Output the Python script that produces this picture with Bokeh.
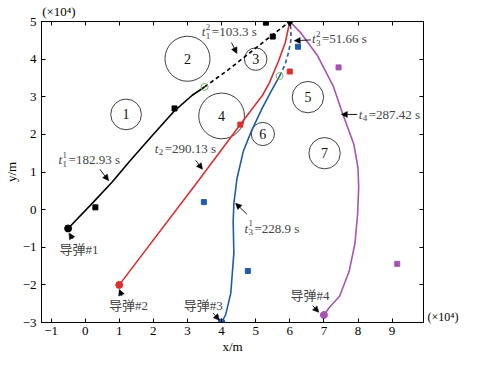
from bokeh.plotting import figure
from bokeh.models import (Range1d, FixedTicker, LinearAxis, CustomJSTickFormatter,
                          Label, Arrow, NormalHead)
from bokeh.embed import file_html
from bokeh.resources import INLINE

# ---------------- data (units of 10^4 m) ----------------
X_RANGE = (-1.28, 9.92)
Y_RANGE = (-3.0, 5.0)
x_ticks = [-1, 0, 1, 2, 3, 4, 5, 6, 7, 8, 9]
y_ticks = [-3, -2, -1, 0, 1, 2, 3, 4, 5]
scale_text = "(×10⁴)"
scale_top_x = [-0.77]
scale_right_y = [-2.86]
x_title = "x/m"
y_title = "y/m"

# obstacles
obs_x = [1.20, 3.00, 5.00, 4.00, 6.53, 5.21, 7.02]
obs_y = [2.53, 4.01, 4.00, 2.49, 2.99, 2.01, 1.50]
obs_r = [0.45, 0.66, 0.33, 0.67, 0.46, 0.34, 0.46]
obs_labels = ["1", "2", "3", "4", "5", "6", "7"]

# missile 1 (black)
m1_x = [-0.50, 0.24, 0.80, 1.31, 1.95, 2.58, 3.14, 3.50]
m1_y = [-0.50, 0.20, 0.74, 1.29, 1.95, 2.59, 3.04, 3.26]
m1d_x = [3.50, 4.20, 4.90, 5.50, 6.00]
m1d_y = [3.26, 3.72, 4.22, 4.65, 5.00]
# missile 2 (red)
m2_x = [1.00, 3.33, 4.55, 5.20, 5.40, 5.67, 5.87, 6.00]
m2_y = [-2.00, 0.78, 2.26, 3.04, 3.37, 3.95, 4.45, 5.00]
# missile 3 (blue)
m3_x = [4.00, 4.12, 4.27, 4.36, 4.34, 4.36, 4.45, 4.64, 4.88, 5.20, 5.44, 5.70]
m3_y = [-3.00, -2.79, -2.22, -1.15, -0.33, 0.16, 0.82, 1.56, 2.10, 2.71, 3.12, 3.55]
m3d_x = [5.70, 5.86, 5.97, 6.04, 6.03, 6.00]
m3d_y = [3.55, 3.85, 4.20, 4.55, 4.80, 5.00]
# missile 4 (purple)
m4_x = [7.00, 7.17, 7.46, 7.74, 7.91, 7.99, 8.02, 8.00, 7.88, 7.55, 7.27, 6.80, 6.33, 6.00]
m4_y = [-2.80, -2.59, -2.30, -1.64, -0.90, -0.10, 0.60, 1.10, 1.73, 2.55, 3.29, 4.11, 4.69, 5.00]

start_x = [-0.50, 1.00, 4.00, 7.00]
start_y = [-0.50, -2.00, -3.00, -2.80]
target_x = [6.00]
target_y = [5.00]
switch_x = [3.50, 5.70]
switch_y = [3.26, 3.55]

sq_black_x = [0.30, 2.62, 5.30, 5.50]
sq_black_y = [0.06, 2.69, 4.97, 4.60]
sq_red_x = [4.55, 6.00]
sq_red_y = [2.26, 3.67]
sq_blue_x = [3.48, 4.77, 6.24]
sq_blue_y = [0.20, -1.63, 4.33]
sq_purple_x = [7.43, 9.15]
sq_purple_y = [3.78, -1.44]

# time annotations
ann_x = [-0.78, 2.04, 3.42, 6.65, 8.02, 4.67]
ann_y = [1.33, 1.63, 4.73, 4.54, 2.53, -0.49]
ann_sub = ["1", "2", "1", "3", "4", "3"]
ann_sup = ["1", "", "2", "2", "", "1"]
ann_rest = ["=182.93 s", "=290.13 s", "=103.3 s", "=51.66 s", "=287.42 s", "=228.9 s"]

# missile name labels
ml_x = [-0.18, 1.27, 3.46, 6.59]
ml_y = [-1.07, -2.56, -2.55, -2.28]
ml_text = ["导弹#1", "导弹#2", "导弹#3", "导弹#4"]

# arrows
arr_x0 = [0.43, 3.24, 4.29, 6.62, 7.98, 4.74, -0.37, 1.08, 3.75, 6.67]
arr_y0 = [1.07, 1.31, 4.44, 4.51, 2.53, -0.12, -0.78, -2.30, -2.75, -2.55]
arr_x1 = [0.69, 3.44, 4.45, 6.13, 7.51, 4.41, -0.47, 1.00, 3.94, 6.85]
arr_y1 = [0.77, 1.07, 4.15, 4.49, 2.53, 0.17, -0.62, -2.12, -2.94, -2.73]

# ---------------- styles ----------------
SERIF = "Liberation Serif"
CJK = "'Liberation Serif', 'Noto Sans CJK SC'"
BLACK = "#000000"
RED = "#dc2f2f"
BLUE = "#1f5ba8"
PURPLE = "#a852b4"
GREEN = "#7ab55c"

p = figure(width=461, height=356,
           x_range=Range1d(*X_RANGE), y_range=Range1d(*Y_RANGE),
           output_backend="svg", toolbar_location=None,
           min_border_left=34, min_border_right=30,
           min_border_top=17, min_border_bottom=30)
p.grid.visible = False
p.outline_line_color = "black"
p.outline_line_width = 1
p.background_fill_color = "white"
p.border_fill_color = "white"

fmt = CustomJSTickFormatter(code="return tick < 0 ? '\\u2212' + Math.abs(tick) : String(tick);")


def style_axis(ax, ticks, show):
    ax.ticker = FixedTicker(ticks=ticks)
    ax.formatter = fmt if show else CustomJSTickFormatter(code="return '';")
    ax.major_tick_in = 4
    ax.major_tick_out = 0
    ax.minor_tick_in = 0
    ax.minor_tick_out = 0
    ax.axis_line_color = "black"
    ax.major_tick_line_color = "black"
    ax.major_label_text_font = SERIF
    ax.major_label_text_font_size = "13px" if show else "0px"
    ax.major_label_text_color = "black"
    ax.major_label_standoff = 4 if show else 0


def text_axis(ax, ticks, standoff):
    ax.ticker = FixedTicker(ticks=ticks)
    ax.formatter = CustomJSTickFormatter(code="return %r;" % scale_text)
    ax.major_tick_in = 0
    ax.major_tick_out = 0
    ax.minor_tick_in = 0
    ax.minor_tick_out = 0
    ax.axis_line_color = None
    ax.major_tick_line_color = None
    ax.major_label_text_font = SERIF
    ax.major_label_text_font_size = "13px"
    ax.major_label_text_color = "black"
    ax.major_label_standoff = standoff


xa = p.xaxis[0]
ya = p.yaxis[0]
style_axis(xa, x_ticks, True)
style_axis(ya, y_ticks, True)
ya.major_label_standoff = 5
xa.axis_label = x_title
ya.axis_label = y_title
for ax in (xa, ya):
    ax.axis_label_text_font = SERIF
    ax.axis_label_text_font_size = "13px"
    ax.axis_label_text_font_style = "normal"
    ax.axis_label_text_color = "black"
    ax.axis_label_standoff = 1

top = LinearAxis()
style_axis(top, x_ticks, False)
p.add_layout(top, "above")
top_txt = LinearAxis()
text_axis(top_txt, scale_top_x, 3)
p.add_layout(top_txt, "above")

right = LinearAxis()
style_axis(right, y_ticks, False)
p.add_layout(right, "right")
right_txt = LinearAxis()
text_axis(right_txt, scale_right_y, 4)
right_txt.major_label_text_font_size = "12px"
p.add_layout(right_txt, "right")

# obstacles
p.circle(x=obs_x, y=obs_y, radius=obs_r, fill_color=None,
         line_color="#2a2a2a", line_width=0.9)
for xx, yy, tt in zip(obs_x, obs_y, obs_labels):
    p.add_layout(Label(x=xx, y=yy, text=tt, text_font=SERIF, text_font_size="14px",
                       text_align="center", text_baseline="middle", text_color="#111111"))

# trajectories
p.line(m1_x, m1_y, line_color=BLACK, line_width=1.6)
p.line(m1d_x, m1d_y, line_color=BLACK, line_width=1.6, line_dash="4 3")
p.line(m2_x, m2_y, line_color=RED, line_width=1.6)
p.line(m3_x, m3_y, line_color=BLUE, line_width=1.6)
p.line(m3d_x, m3d_y, line_color=BLUE, line_width=1.6, line_dash="4 3")
p.line(m4_x, m4_y, line_color=PURPLE, line_width=1.6)

# markers
p.scatter(sq_black_x, sq_black_y, marker="square", size=5, color=BLACK)
p.scatter(sq_red_x, sq_red_y, marker="square", size=5, color=RED)
p.scatter(sq_blue_x, sq_blue_y, marker="square", size=5, color=BLUE)
p.scatter(sq_purple_x, sq_purple_y, marker="square", size=5, color=PURPLE)
p.scatter(start_x, start_y, marker="circle", size=7,
          color=[BLACK, RED, BLUE, PURPLE])
p.scatter(switch_x, switch_y, marker="circle", size=7, fill_color=None,
          line_color=GREEN, line_width=1)
p.scatter(target_x, target_y, marker="diamond", size=9, color=BLACK)

# arrows
for a, b, c, d in zip(arr_x0, arr_y0, arr_x1, arr_y1):
    p.add_layout(Arrow(end=NormalHead(size=6, fill_color="black", line_color="black",
                                      line_width=0.5),
                       x_start=a, y_start=b, x_end=c, y_end=d,
                       line_color="black", line_width=0.9))

# time annotations: t with subscript / superscript
for xx, yy, sb, sp, rest in zip(ann_x, ann_y, ann_sub, ann_sup, ann_rest):
    p.add_layout(Label(x=xx, y=yy, text="t", text_font=SERIF, text_font_size="13px",
                       text_font_style="italic", text_baseline="middle"))
    p.add_layout(Label(x=xx, y=yy, text=sb, text_font=SERIF, text_font_size="9px",
                       text_baseline="middle", x_offset=4, y_offset=-4))
    if sp:
        p.add_layout(Label(x=xx, y=yy, text=sp, text_font=SERIF, text_font_size="9px",
                           text_baseline="middle", x_offset=4, y_offset=5))
    p.add_layout(Label(x=xx, y=yy, text=rest, text_font=SERIF, text_font_size="13px",
                       text_baseline="middle", x_offset=10))

# missile labels
for xx, yy, tt in zip(ml_x, ml_y, ml_text):
    p.add_layout(Label(x=xx, y=yy, text=tt, text_font=CJK, text_font_size="13px",
                       text_align="center", text_baseline="middle"))

open("out.html", "w").write(file_html(p, INLINE))
